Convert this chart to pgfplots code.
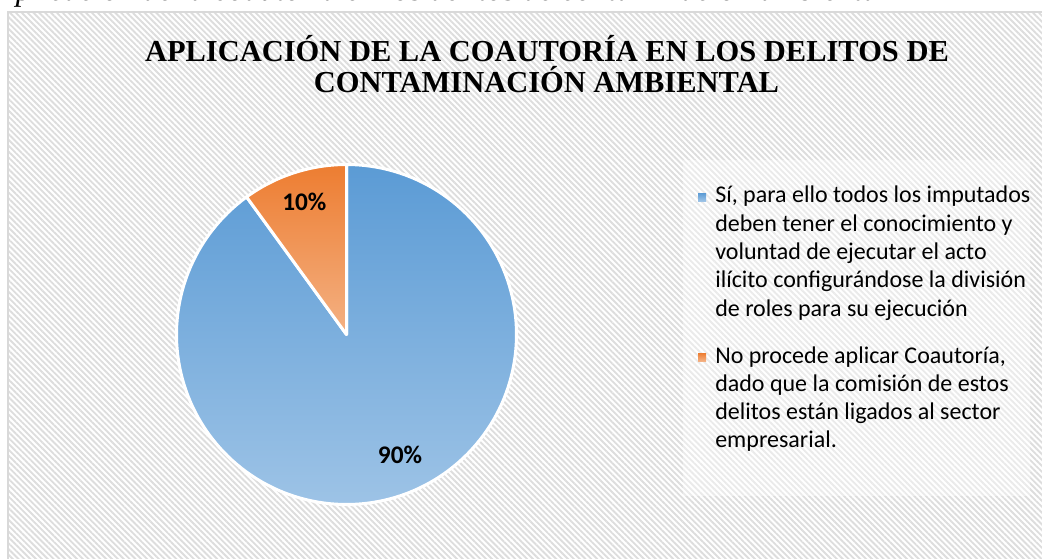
\documentclass[border=0pt]{standalone}
\usepackage{fontspec}
\setmainfont{Liberation Serif}
\newfontfamily\calibri{Carlito}
\usepackage{pgfplots}
\pgfplotsset{compat=1.18}
\usepackage{pgfplotstable}
\usetikzlibrary{patterns.meta}
\definecolor{blueA}{HTML}{5B9BD5}
\definecolor{blueB}{HTML}{9DC3E6}
\definecolor{orA}{HTML}{ED7D31}
\definecolor{orB}{HTML}{F4B183}
\definecolor{hatch}{HTML}{DDDDDD}
\definecolor{frame}{HTML}{D9D9D9}

\pgfplotstableread{
label value
Si 90
No 10
}\piedata
\pgfplotstablegetelem{0}{value}\of\piedata
\pgfmathsetmacro\angA{90-3.6*\pgfplotsretval}
\pgfplotstablegetelem{1}{value}\of\piedata
\pgfmathsetmacro\angB{\angA-3.6*\pgfplotsretval}

\begin{document}
\begin{tikzpicture}[x=0.75pt,y=0.75pt]
\clip (0,0) rectangle (1042,558);
% caption (cut off at the top)
\node[anchor=base west, inner sep=0pt, font=\fontsize{24}{28}\selectfont\itshape] at (-4,557.9) {Aplicación de la coautoría en los delitos de contaminación ambiental};
% chart area
\fill[white] (8,546) rectangle (1060,-10);
\fill[pattern={Lines[angle=-45,distance=3.1pt,line width=1.4pt]}, pattern color=hatch] (8,546) rectangle (1060,-10);
\draw[frame, line width=1.5pt] (1060,546) -- (8,546) -- (8,-10);
% title
\node[anchor=base, inner sep=0pt, font=\fontsize{22.85}{27}\selectfont\bfseries] at (547,496) {APLICACIÓN DE LA COAUTORÍA EN LOS DELITOS DE};
\node[anchor=base, inner sep=0pt, font=\fontsize{22.85}{27}\selectfont\bfseries] at (546.5,465) {CONTAMINACIÓN AMBIENTAL};
% legend
\fill[white, opacity=0.4] (683,398) rectangle (1030,62);
\shade[top color=blueA, bottom color=blueB] (698,357) rectangle (706,365);
\shade[top color=orA, bottom color=orB] (698,197) rectangle (706,205);
\begin{scope}[every node/.style={anchor=base west, inner sep=0pt, font=\calibri\fontsize{18}{21}\selectfont}]
\node at (715,355) {Sí, para ello todos los imputados};
\node at (715,326.7) {deben tener el conocimiento y};
\node at (715,298.4) {voluntad de ejecutar el acto};
\node at (715,270.1) {ilícito configurándose la división};
\node at (715,241.8) {de roles para su ejecución};
\node at (715,195) {No procede aplicar Coautoría,};
\node at (715,166.7) {dado que la comisión de estos};
\node at (715,138.4) {delitos están ligados al sector};
\node at (715,110.1) {empresarial.};
\end{scope}
% pie
\coordinate (piecenter) at (346.5,223.5);
\begin{axis}[at={(piecenter)}, anchor=center, scale only axis,
  width=255pt, height=255pt, xmin=-1, xmax=1, ymin=-1, ymax=1,
  hide axis, clip=false]
\addplot[draw=white, line width=2.25pt, line join=round, top color=blueA, bottom color=blueB,
  domain=\angA:90, samples=160] ({cos(x)},{sin(x)}) -- (axis cs:0,0) -- cycle;
\addplot[draw=white, line width=2.25pt, line join=round, top color=orA, bottom color=orB,
  domain=\angB:\angA, samples=30] ({cos(x)},{sin(x)}) -- (axis cs:0,0) -- cycle;
\node[anchor=base, inner sep=0pt, font=\calibri\bfseries\fontsize{19}{22}\selectfont] at (axis cs:-0.248,0.728) {10\%};
\node[anchor=base, inner sep=0pt, font=\calibri\bfseries\fontsize{19}{22}\selectfont] at (axis cs:0.315,-0.757) {90\%};
\end{axis}
\end{tikzpicture}
\end{document}
